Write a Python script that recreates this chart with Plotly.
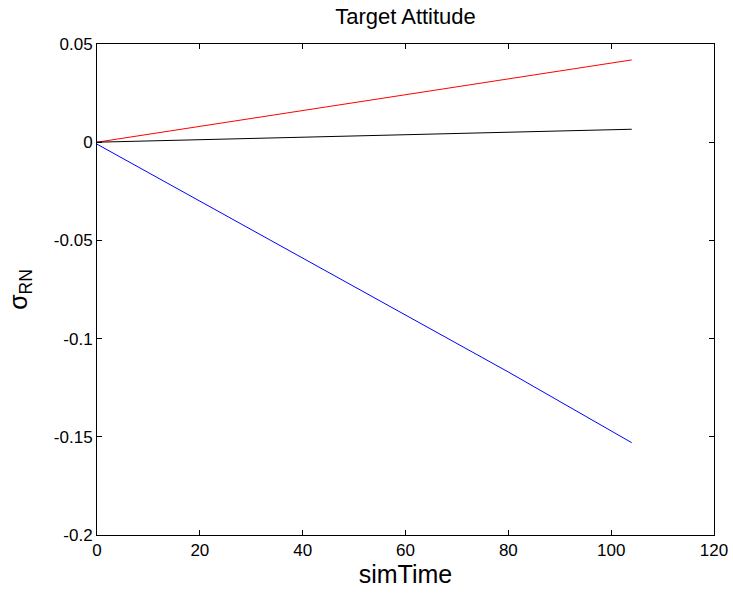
import plotly.graph_objects as go

sim_time = [0, 20, 40, 60, 80, 104]
sigma_1 = [0.0, 0.0081, 0.0161, 0.0242, 0.0322, 0.0419]
sigma_2 = [-0.001, -0.0300, -0.0590, -0.0880, -0.1170, -0.1530]
sigma_3 = [0.0, 0.0013, 0.0025, 0.0038, 0.0051, 0.0066]

x_ticks = [0, 20, 40, 60, 80, 100, 120]
y_ticks = [-0.2, -0.15, -0.1, -0.05, 0, 0.05]
y_tick_text = ["-0.2", "-0.15", "-0.1", "-0.05", "0", "0.05"]

fig = go.Figure()
fig.add_trace(go.Scatter(x=sim_time, y=sigma_1, mode="lines", line=dict(color="#ff0000", width=1)))
fig.add_trace(go.Scatter(x=sim_time, y=sigma_2, mode="lines", line=dict(color="#0000ff", width=1)))
fig.add_trace(go.Scatter(x=sim_time, y=sigma_3, mode="lines", line=dict(color="#000000", width=1)))

font = "Liberation Sans, Arial, sans-serif"
fig.update_layout(
    width=733, height=594,
    margin=dict(l=97, r=19, t=44, b=59, autoexpand=False),
    paper_bgcolor="white", plot_bgcolor="white",
    showlegend=False,
    font=dict(family=font, size=17, color="black"),
    title=dict(text="Target Attitude", x=0.5, xref="paper", xanchor="center",
               y=1 - 16 / 594, yanchor="middle", font=dict(size=22, family=font)),
)
fig.update_xaxes(
    range=[0, 120], tickvals=x_ticks, ticks="inside", ticklen=5, tickcolor="black",
    showline=True, linecolor="black", linewidth=1, mirror="ticks", showgrid=False, zeroline=False,
    title=dict(text="simTime", font=dict(size=25, family=font), standoff=5),
    tickfont=dict(size=17), automargin=False,
)
fig.update_yaxes(
    range=[-0.2, 0.05], tickvals=y_ticks, ticktext=y_tick_text, ticks="inside", ticklen=5, tickcolor="black",
    showline=True, linecolor="black", linewidth=1, mirror="ticks", showgrid=False, zeroline=False,
    title=dict(text="σ<sub>RN</sub>", font=dict(size=25, family=font), standoff=19),
    tickfont=dict(size=17), automargin=False,
)

fig.write_html(
    "out.html",
    config={"displayModeBar": False},
    post_script="document.body.style.margin='0';document.body.style.overflow='hidden';",
)
